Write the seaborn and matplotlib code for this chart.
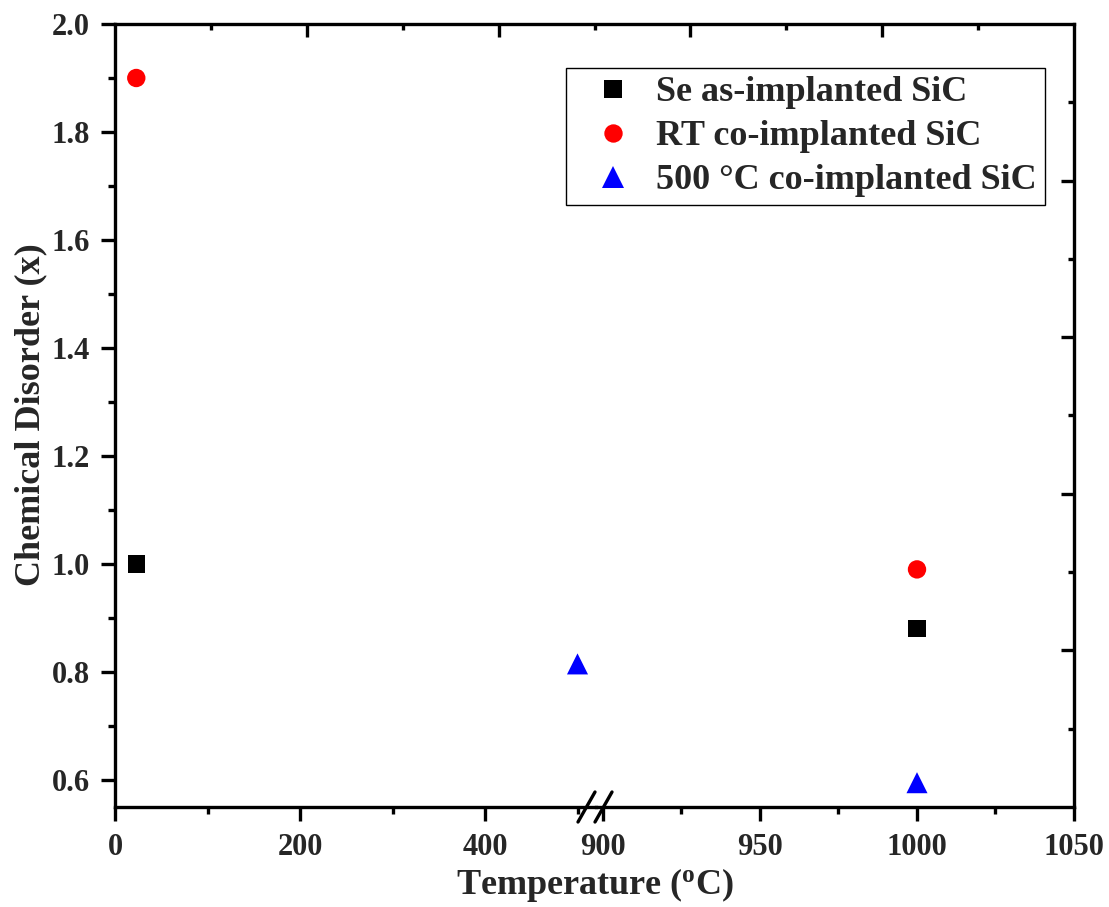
import numpy as np
import pandas as pd
import matplotlib
matplotlib.use("Agg")
import matplotlib.pyplot as plt
from matplotlib.lines import Line2D
from matplotlib.ticker import MultipleLocator, FixedLocator
import seaborn as sns

# ---- data ----
series = ["Se as-implanted SiC", "RT co-implanted SiC", "500 \u00b0C co-implanted SiC"]
se_T = [23, 1000]
se_x = [1.00, 0.88]
rt_T = [23, 1000]
rt_x = [1.90, 0.99]
hot_T = [500, 1000]
hot_x = [0.815, 0.595]

left_ticks = [0, 200, 400]
right_ticks = [900, 950, 1000, 1050]
y_ticks = [0.6, 0.8, 1.0, 1.2, 1.4, 1.6, 1.8, 2.0]

df = pd.DataFrame({
    "T": se_T + rt_T + hot_T,
    "x": se_x + rt_x + hot_x,
    "sample": [series[0]] * 2 + [series[1]] * 2 + [series[2]] * 2,
})

sns.set_theme(style="white")
plt.rcParams["font.family"] = ["Liberation Serif", "DejaVu Serif"]
plt.rcParams["font.weight"] = "bold"
plt.rcParams["mathtext.fontset"] = "custom"
plt.rcParams["mathtext.rm"] = "Liberation Serif:bold"
plt.rcParams["mathtext.bf"] = "Liberation Serif:bold"

palette = {series[0]: "#000000", series[1]: "#ff0000", series[2]: "#0000ff"}
markers = {series[0]: "s", series[1]: "o", series[2]: "^"}
sizes = {series[0]: 150, series[1]: 175, series[2]: 230}

W, H = 1109, 907
fig = plt.figure(figsize=(W / 100, H / 100), dpi=100)

def fr(x0, x1, ytop, ybot):
    return [x0 / W, 1 - ybot / H, (x1 - x0) / W, (ybot - ytop) / H]

LX, RX, TOP, BOT, BRK = 115, 1074, 24, 807, 596
lw = 2.4

axL = fig.add_axes(fr(LX, BRK, TOP, BOT))
axR = fig.add_axes(fr(BRK, RX, TOP, BOT), sharey=axL)
ov = fig.add_axes(fr(LX, RX, TOP, BOT), zorder=-1)

# overlay frame (top + right spines with their own ticks)
ov.set_xlim(0, 10)
ov.set_ylim(0, 10)
ov.patch.set_alpha(0)
for s in ["left", "bottom"]:
    ov.spines[s].set_visible(False)
for s in ["top", "right"]:
    ov.spines[s].set_linewidth(lw)
    ov.spines[s].set_color("black")
ov.xaxis.set_major_locator(FixedLocator([2, 4, 6, 8]))
ov.xaxis.set_minor_locator(FixedLocator([1, 3, 5, 7, 9]))
ov.yaxis.set_major_locator(FixedLocator([2, 4, 6, 8]))
ov.yaxis.set_minor_locator(FixedLocator([1, 3, 5, 7, 9]))
ov.tick_params(which="both", direction="in", top=True, right=True, bottom=False, left=False,
               labeltop=False, labelright=False, labelbottom=False, labelleft=False,
               width=lw, color="black")
ov.tick_params(which="major", length=9.5)
ov.tick_params(which="minor", length=4.5)

left_df = df[df["T"] < 700]
right_df = df[df["T"] >= 700]
for ax, d in [(axL, left_df), (axR, right_df)]:
    sns.scatterplot(data=d, x="T", y="x", hue="sample", style="sample", size="sample",
                    palette=palette, markers=markers, sizes=sizes,
                    hue_order=series, style_order=series, size_order=series,
                    linewidth=0, edgecolor="none", ax=ax, legend=False, zorder=5)
    ax.set_xlabel("")
    ax.set_ylabel("")
    ax.patch.set_alpha(0)
    for s in ["top", "right", "left", "bottom"]:
        ax.spines[s].set_visible(False)
    ax.spines["bottom"].set_visible(True)
    ax.spines["bottom"].set_linewidth(lw)
    ax.spines["bottom"].set_color("black")
    ax.grid(False)

axL.set_xlim(0, (BRK - LX) / 0.925)
axR.set_xlim(1050 - (RX - BRK) / 3.14, 1050)
axL.set_ylim(0.55, 2.0)

axL.spines["left"].set_visible(True)
axL.spines["left"].set_linewidth(lw)
axL.spines["left"].set_color("black")

axL.xaxis.set_major_locator(FixedLocator(left_ticks))
axL.xaxis.set_minor_locator(FixedLocator([100, 300, 500]))
axR.xaxis.set_major_locator(FixedLocator(right_ticks))
axR.xaxis.set_minor_locator(FixedLocator([925, 975, 1025]))
axL.yaxis.set_major_locator(FixedLocator(y_ticks))
axL.yaxis.set_minor_locator(MultipleLocator(0.1))
axL.set_yticklabels([f"{v:.1f}" for v in y_ticks])
axL.set_xticklabels([str(v) for v in left_ticks])
axR.set_xticklabels([str(v) for v in right_ticks])

for ax in (axL, axR):
    ax.tick_params(which="both", direction="out", bottom=True, top=False, right=False,
                   width=lw, color="black", labelsize=22)
    ax.tick_params(which="major", length=10)
    ax.tick_params(which="minor", length=5)
    ax.tick_params(axis="x", which="major", pad=9)
axL.tick_params(axis="y", which="both", left=True)
axL.tick_params(axis="y", which="major", pad=8)
axR.tick_params(axis="y", which="both", left=False, labelleft=False)
for lab in axL.get_xticklabels() + axL.get_yticklabels() + axR.get_xticklabels():
    lab.set_fontweight("bold")

# break marks
def px(xp, yp):
    return xp / W, 1 - yp / H
for x0 in (578, 595):
    a = px(x0, 822)
    b = px(x0 + 17, 792)
    fig.add_artist(Line2D([a[0], b[0]], [a[1], b[1]], color="black", lw=lw,
                          transform=fig.transFigure, zorder=10))

# axis labels
fig.text(595 / W, 1 - 885 / H, r"Temperature ($\mathregular{^o}$C)", ha="center", va="center",
         fontsize=26, fontweight="bold")
fig.text(31 / W, 1 - 415 / H, "Chemical Disorder (x)", ha="center", va="center",
         rotation=90, fontsize=26, fontweight="bold")

# legend
handles = [Line2D([], [], ls="none", marker=markers[s], color=palette[s],
                  markeredgewidth=0, markersize=np.sqrt(sizes[s])) for s in series]
leg = fig.legend(handles, series, loc="upper right", bbox_to_anchor=(1045 / W, 1 - 68 / H),
                 frameon=True, fancybox=False, edgecolor="black", framealpha=1,
                 prop={"size": 26, "weight": "bold"}, handletextpad=0.11,
                 labelspacing=0.3, borderpad=0.22, handlelength=2.17, borderaxespad=0)
leg.get_frame().set_linewidth(1.0)

fig.savefig("out.png", dpi=100)
